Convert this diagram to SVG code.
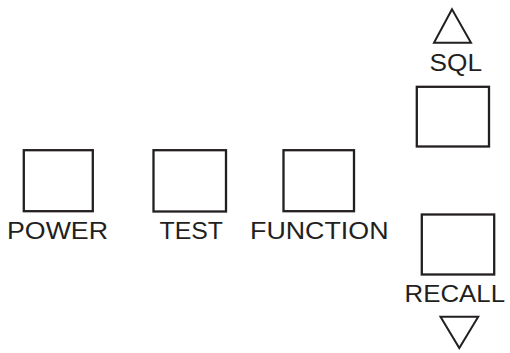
<svg xmlns="http://www.w3.org/2000/svg" width="510" height="353" viewBox="0 0 510 353">
<style>
.box{fill:#fff;stroke:#231f20;stroke-width:2.3}
.tri{fill:none;stroke:#231f20;stroke-width:2;stroke-linejoin:miter}
.lbl{font-family:"Liberation Sans",Arial,Helvetica,sans-serif;font-size:24px;fill:#231f20}
</style>
<rect width="510" height="353" fill="#fff"/>
<g id="power">
<rect class="box" x="23.8" y="150.2" width="69" height="61"/>
<text class="lbl" x="7" y="239.3" textLength="101" lengthAdjust="spacingAndGlyphs">POWER</text>
</g>
<g id="test">
<rect class="box" x="153.5" y="150.2" width="72.5" height="61.3"/>
<text class="lbl" x="159.5" y="239.3" textLength="63.5" lengthAdjust="spacingAndGlyphs">TEST</text>
</g>
<g id="function">
<rect class="box" x="283.5" y="150.2" width="70.5" height="61"/>
<text class="lbl" x="250" y="239.3" textLength="138.5" lengthAdjust="spacingAndGlyphs">FUNCTION</text>
</g>
<g id="sql">
<polygon class="tri" points="452,9.3 434,42.7 471,42.7"/>
<text class="lbl" x="429.5" y="70.7" textLength="52.5" lengthAdjust="spacingAndGlyphs">SQL</text>
<rect class="box" x="416.8" y="86.8" width="72.2" height="59.7"/>
</g>
<g id="recall">
<rect class="box" x="421.8" y="214.5" width="72.4" height="60"/>
<text class="lbl" x="404.5" y="301.7" textLength="100.5" lengthAdjust="spacingAndGlyphs">RECALL</text>
<polygon class="tri" points="440.5,316.8 478.2,316.8 459.3,348"/>
</g>
</svg>
